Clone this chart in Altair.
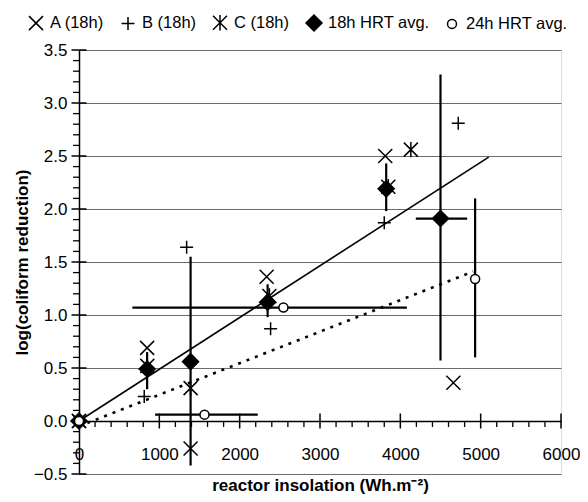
import altair as alt
import pandas as pd

FONT = "Liberation Sans"

# ---- data ----
series = ["A (18h)", "B (18h)", "C (18h)", "18h HRT avg.", "24h HRT avg."]

a_x = [0, 848, 1389, 2336, 3812, 4660]
a_y = [0, 0.69, -0.26, 1.36, 2.50, 0.36]
b_x = [0, 812, 1340, 2385, 3800, 4721]
b_y = [0, 0.23, 1.64, 0.87, 1.87, 2.81]
c_x = [0, 850, 1389, 2370, 3850, 4131]
c_y = [0, 0.52, 0.31, 1.18, 2.21, 2.56]
avg18_x = [0, 848, 1389, 2348, 3824, 4500]
avg18_y = [0, 0.49, 0.56, 1.12, 2.19, 1.91]
avg24_x = [0, 1562, 2545, 4931]
avg24_y = [0, 0.06, 1.07, 1.34]

# vertical error bars
verr_x = [848, 1389, 2348, 3824, 4500, 4931]
verr_lo = [0.30, -0.42, 0.98, 1.98, 0.57, 0.60]
verr_hi = [0.65, 1.55, 1.29, 2.43, 3.27, 2.10]
# horizontal error bars
herr_y = [1.91, 1.07, 0.06]
herr_lo = [4193, 664, 947]
herr_hi = [4832, 4082, 2225]

# fitted lines
fit18_x = [0, 5100]
fit18_y = [0, 2.49]
fit24_x = [0, 4906]
fit24_y = [-0.05, 1.41]

# axis ticks
x_major = [0, 1000, 2000, 3000, 4000, 5000, 6000]
x_minor = [200, 400, 600, 800, 1200, 1400, 1600, 1800, 2200, 2400, 2600, 2800,
           3200, 3400, 3600, 3800, 4200, 4400, 4600, 4800, 5200, 5400, 5600, 5800]
y_major = [-0.5, 0.0, 0.5, 1.0, 1.5, 2.0, 2.5, 3.0, 3.5]
y_minor = [-0.4, -0.3, -0.2, -0.1, 0.1, 0.2, 0.3, 0.4, 0.6, 0.7, 0.8, 0.9,
           1.1, 1.2, 1.3, 1.4, 1.6, 1.7, 1.8, 1.9, 2.1, 2.2, 2.3, 2.4,
           2.6, 2.7, 2.8, 2.9, 3.1, 3.2, 3.3, 3.4]

# ---- tables ----
pts = pd.concat([
    pd.DataFrame({"x": a_x, "y": a_y, "s": series[0]}),
    pd.DataFrame({"x": b_x, "y": b_y, "s": series[1]}),
    pd.DataFrame({"x": c_x, "y": c_y, "s": series[2]}),
    pd.DataFrame({"x": avg18_x, "y": avg18_y, "s": series[3]}),
    pd.DataFrame({"x": avg24_x, "y": avg24_y, "s": series[4]}),
], ignore_index=True)
verr = pd.DataFrame({"x": verr_x, "lo": verr_lo, "hi": verr_hi})
herr = pd.DataFrame({"y": herr_y, "lo": herr_lo, "hi": herr_hi})
fit18 = pd.DataFrame({"x": fit18_x, "y": fit18_y})
fit24 = pd.DataFrame({"x": fit24_x, "y": fit24_y})

xs = alt.Scale(domain=[0, 6000], nice=False, zero=False)
ys = alt.Scale(domain=[-0.5, 3.5], nice=False, zero=False)

X_PATH = "M-1,-1L1,1M1,-1L-1,1"
PLUS_PATH = "M-1,0L1,0M0,-1L0,1"
AST_PATH = "M-1,-1L1,1M1,-1L-1,1M0,-1.1L0,1.1"

XT = "reactor insolation (Wh.m\u207b\u00b2)"
YT = "log(coliform reduction)"

x_axis = alt.Axis(values=x_major, format="d", ticks=False, grid=False, domain=True,
                  domainColor="black", domainWidth=1.5, offset=-53,
                  labelFont=FONT, labelFontSize=17, labelColor="black",
                  labelPadding=25, labelFlush=False, labelOverlap=False,
                  title=XT, titleFont=FONT,
                  titleFontSize=17, titleFontWeight="bold", titleColor="black",
                  titleY=69, titleBaseline="alphabetic")
y_axis = alt.Axis(values=y_major, format=".1f", ticks=False, grid=True,
                  gridColor="#6b6b6b", gridWidth=1, domain=True,
                  domainColor="black", domainWidth=1.5,
                  labelFont=FONT, labelFontSize=17, labelColor="black",
                  labelPadding=12, labelFlush=False, labelOverlap=False,
                  title=YT, titleFont=FONT,
                  titleFontSize=17, titleFontWeight="bold", titleColor="black",
                  titleX=-57, titleBaseline="middle")


def X(f):
    return alt.X(f, scale=xs, axis=x_axis, title=XT)


def Y(f):
    return alt.Y(f, scale=ys, axis=y_axis, title=YT)


vbars = alt.Chart(verr).mark_rule(color="black", strokeWidth=2.2).encode(
    x=X("x:Q"), y=Y("lo:Q"), y2="hi:Q")
hbars = alt.Chart(herr).mark_rule(color="black", strokeWidth=2.2).encode(
    y=Y("y:Q"), x=X("lo:Q"), x2="hi:Q")
line18 = alt.Chart(fit18).mark_line(color="black", strokeWidth=1.6).encode(
    x=X("x:Q"), y=Y("y:Q"))
line24 = alt.Chart(fit24).mark_line(color="black", strokeWidth=2.6,
                                    strokeDash=[3, 6]).encode(
    x=X("x:Q"), y=Y("y:Q"))

leg = alt.Legend(title=None, orient="none", legendX=-52, legendY=-36,
                 direction="horizontal", columns=5, labelFont=FONT,
                 labelFontSize=16.5, labelColor="black", labelOffset=5,
                 columnPadding=13, padding=0, symbolStrokeWidth=1.5)
points = alt.Chart(pts).mark_point(filled=False, strokeWidth=1.5, opacity=1).encode(
    x=X("x:Q"), y=Y("y:Q"),
    shape=alt.Shape("s:N", scale=alt.Scale(domain=series,
                    range=[X_PATH, PLUS_PATH, AST_PATH, "diamond", "circle"]),
                    legend=leg),
    fill=alt.Fill("s:N", scale=alt.Scale(domain=series,
                  range=["white", "white", "white", "black", "white"]), legend=leg),
    stroke=alt.Stroke("s:N", scale=alt.Scale(domain=series,
                      range=["black", "black", "black", "black", "black"]), legend=leg),
    size=alt.Size("s:N", scale=alt.Scale(type="ordinal", domain=series,
                  range=[196, 169, 196, 256, 81]), legend=leg),
)

xmaj = alt.Chart(pd.DataFrame({"v": x_major})).mark_tick(
    orient="vertical", size=15, thickness=1.5, color="black", opacity=1).encode(
    x=X("v:Q"), y=alt.YDatum(0, scale=ys, axis=y_axis, title=YT))
xmin = alt.Chart(pd.DataFrame({"v": x_minor})).mark_tick(
    orient="vertical", size=6, thickness=1.3, color="black", opacity=1, yOffset=3).encode(
    x=X("v:Q"), y=alt.YDatum(0, scale=ys, axis=y_axis, title=YT))
ymaj = alt.Chart(pd.DataFrame({"v": y_major})).mark_tick(
    orient="horizontal", size=15, thickness=1.5, color="black", opacity=1).encode(
    y=Y("v:Q"), x=alt.XDatum(0, scale=xs, axis=x_axis, title=XT))
ymin = alt.Chart(pd.DataFrame({"v": y_minor})).mark_tick(
    orient="horizontal", size=6, thickness=1.3, color="black", opacity=1, xOffset=-3).encode(
    y=Y("v:Q"), x=alt.XDatum(0, scale=xs, axis=x_axis, title=XT))

chart = alt.layer(vbars, hbars, line18, line24, xmaj, xmin, ymaj, ymin, points).properties(
    width=482, height=424,
    autosize=alt.AutoSizeParams(type="none"),
    padding={"left": 71, "top": 42, "right": 19, "bottom": 20},
).configure_view(stroke=None).configure(background="white")

chart.save("out.html", embed_options={"renderer": "svg", "actions": False})
